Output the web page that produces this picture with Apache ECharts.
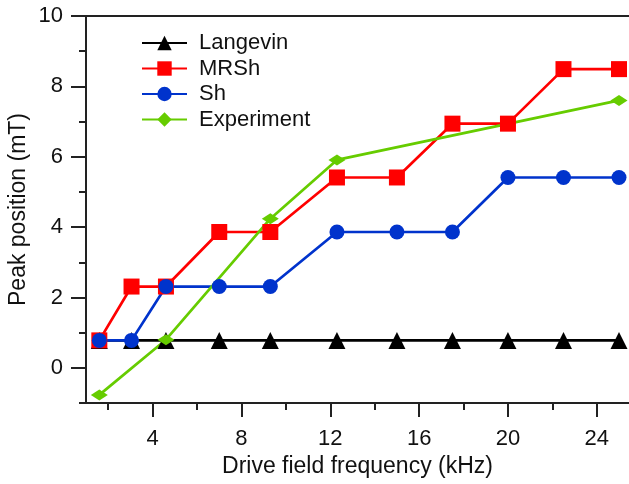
<!DOCTYPE html>
<html><head><meta charset="utf-8">
<script src="https://cdn.jsdelivr.net/npm/echarts@6/dist/echarts.min.js"></script>
<style>html,body{margin:0;padding:0;background:#fff}#c{width:629px;height:484px}</style>
</head><body><div id="c"></div>
<script>
const freqModel = [1.6, 3.05, 4.6, 7.0, 9.3, 12.3, 15.0, 17.5, 20.0, 22.5, 25.0];
const langevin = [0.78, 0.78, 0.78, 0.78, 0.78, 0.78, 0.78, 0.78, 0.78, 0.78, 0.78];
const mrsh = [0.78, 2.31, 2.31, 3.86, 3.86, 5.41, 5.41, 6.94, 6.94, 8.49, 8.49];
const sh = [0.78, 0.78, 2.31, 2.31, 2.31, 3.86, 3.86, 3.86, 5.41, 5.41, 5.41];
const freqExp = [1.6, 4.6, 9.3, 12.3, 25.0];
const experiment = [-0.77, 0.8, 4.24, 5.91, 7.6];
const xTicks = [4, 8, 12, 16, 20, 24];
const xMinorTicks = [2, 6, 10, 14, 18, 22];
const yTicks = [0, 2, 4, 6, 8, 10];
const yMinorTicks = [-1, 1, 3, 5, 7, 9];

const pair = (xs, ys) => xs.map((x, i) => [x, ys[i]]);
const font = 'Liberation Sans, Arial, sans-serif';
const chart = echarts.init(document.getElementById('c'), null, {renderer: 'canvas'});
const axisCol = '#222';
const XMIN = 1, XMAX = 25.45, YMIN = -1, YMAX = 10;
chart.setOption({
  animation: false,
  grid: {left: 86, right: 0, top: 16, bottom: 81, containLabel: false, outerBoundsMode: 'none'},
  legend: {
    orient: 'vertical', left: 136, top: 27, itemGap: 3.5,
    itemWidth: 45, itemHeight: 18,
    textStyle: {fontFamily: font, fontSize: 22, lineHeight: 18, color: '#111', padding: [0,0,0,7]},
    data: ['Langevin', 'MRSh', 'Sh', 'Experiment']
  },
  xAxis: [{
    type: 'value', min: XMIN, max: XMAX, position: 'bottom',
    name: 'Drive field frequency (kHz)', nameLocation: 'middle', nameGap: 48,
    nameTextStyle: {fontFamily: font, fontSize: 23, color: '#111'},
    axisLine: {show: true, onZero: false, lineStyle: {color: axisCol, width: 2}},
    axisTick: {show: true, inside: false, length: 14, lineStyle: {color: axisCol, width: 2},
      customValues: xTicks},
    axisLabel: {fontFamily: font, fontSize: 22, color: '#111', margin: 25, customValues: xTicks},
    splitLine: {show: false}
  }, {
    type: 'value', min: XMIN, max: XMAX, position: 'top',
    axisLine: {show: true, onZero: false, lineStyle: {color: axisCol, width: 2}},
    axisTick: {show: false}, axisLabel: {show: false}, splitLine: {show: false}
  }, {
    type: 'value', min: XMIN, max: XMAX, position: 'bottom', offset: 0,
    axisLine: {show: false, onZero: false},
    axisTick: {show: true, length: 7, lineStyle: {color: axisCol, width: 2}, customValues: xMinorTicks},
    axisLabel: {show: false, customValues: xMinorTicks}, splitLine: {show: false}
  }],
  yAxis: [{
    type: 'value', min: YMIN, max: YMAX, position: 'left',
    name: 'Peak position (mT)', nameLocation: 'middle', nameGap: 56, nameRotate: 90,
    nameMoveOverlap: false,
    nameTextStyle: {fontFamily: font, fontSize: 23, color: '#111'},
    axisLine: {show: true, onZero: false, lineStyle: {color: axisCol, width: 2}},
    axisTick: {show: true, length: 15, lineStyle: {color: axisCol, width: 2}, customValues: yTicks},
    axisLabel: {fontFamily: font, fontSize: 22, color: '#111', margin: 23, customValues: yTicks},
    splitLine: {show: false}
  }, {
    type: 'value', min: YMIN, max: YMAX, position: 'left', offset: 0,
    axisLine: {show: false, onZero: false},
    axisTick: {show: true, length: 7, lineStyle: {color: axisCol, width: 2}, customValues: yMinorTicks},
    axisLabel: {show: false, customValues: yMinorTicks}, splitLine: {show: false}
  }],
  series: [
    {name: 'Langevin', type: 'line', data: pair(freqModel, langevin), color: '#000',
      symbol: 'triangle', symbolSize: 17, lineStyle: {width: 2.7, color: '#000'},
      itemStyle: {color: '#000'}},
    {name: 'MRSh', type: 'line', data: pair(freqModel, mrsh), color: '#ff0000',
      symbol: 'rect', symbolSize: 16, lineStyle: {width: 2.7, color: '#ff0000'},
      itemStyle: {color: '#ff0000'}},
    {name: 'Sh', type: 'line', data: pair(freqModel, sh), color: '#0033cc',
      symbol: 'circle', symbolSize: 15, lineStyle: {width: 2.7, color: '#0033cc'},
      itemStyle: {color: '#0033cc'}},
    {name: 'Experiment', type: 'line', data: pair(freqExp, experiment), color: '#66cc00',
      symbol: 'diamond', symbolSize: [17, 11], lineStyle: {width: 2.7, color: '#66cc00'},
      itemStyle: {color: '#66cc00'}}
  ]
});
</script></body></html>
